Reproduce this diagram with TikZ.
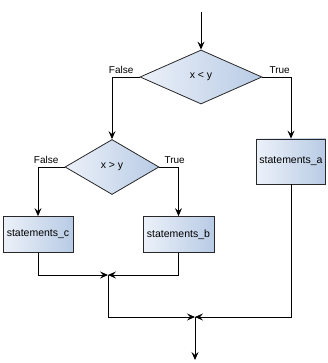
\documentclass[tikz,border=0pt]{standalone}
\usepackage{fontspec}
\setmainfont{Liberation Sans}
\usepackage{xcolor}
\definecolor{fclight}{RGB}{236,241,249}
\definecolor{fcdark}{RGB}{184,203,229}
\definecolor{fcline}{RGB}{40,40,40}
\usetikzlibrary{arrows.meta,positioning,shapes.geometric}

\tikzset{
  decision/.style={diamond, draw=fcline, line width=0.8pt, left color=fclight, right color=fcdark,
    minimum width=122pt, minimum height=54pt, inner sep=0pt, font=\fontsize{10.5}{12}\selectfont},
  stmtbox/.style={rectangle, draw=fcline, line width=0.8pt, left color=fclight, right color=fcdark,
    minimum width=70pt, minimum height=36pt, inner sep=0pt, font=\fontsize{10.5}{12}\selectfont},
  branch/.style={inner sep=0pt, font=\fontsize{10}{12}\selectfont},
  flow/.style={draw=black, line width=0.9pt, -{Stealth[length=8pt,width=7pt,inset=3pt]}}
}

\begin{document}
\begin{tikzpicture}[x=1pt,y=-1pt]
  \useasboundingbox (0,0) rectangle (328,363);

  % Conditions
  \node[decision] (lessxy) at (201,77) {x < y};
  \node[decision, minimum width=94pt, minimum height=55pt] (greaterxy) at (112,167) {x > y};

  % Statements
  \node[stmtbox, minimum width=69pt, minimum height=45pt] (stmta) at (291,161.5) {statements\_a};
  \node[stmtbox] (stmtc) at (38,234.5) {statements\_c};
  \node[stmtbox, minimum width=71pt] (stmtb) at (178.5,234.5) {statements\_b};

  % Branch labels
  \node[branch, above left=3pt and 6pt of lessxy.west] (f1) {False};
  \node[branch, above right=3pt and 7pt of lessxy.east] (t1) {True};
  \node[branch, above left=3pt and 6pt of greaterxy.west] (f2) {False};
  \node[branch, above right=3pt and 5pt of greaterxy.east] (t2) {True};

  % Entry, merge and exit points
  \coordinate (entry) at (201,12);
  \coordinate (joinbc) at (108,275);
  \coordinate (joinall) at (195,317);
  \coordinate (exit) at (195,360);

  % Connectors
  \draw[flow] (entry) -- (lessxy.north);
  \draw[flow] (lessxy.west) -| (greaterxy.north);
  \draw[flow] (lessxy.east) -| (stmta.north);
  \draw[flow] (greaterxy.west) -| (stmtc.north);
  \draw[flow] (greaterxy.east) -| (stmtb.north);
  \draw[flow] (stmtc.south) |- (joinbc);
  \draw[flow] (stmtb.south) |- (joinbc);
  \draw[flow] (joinbc) |- (joinall);
  \draw[flow] (stmta.south) |- (joinall);
  \draw[flow] (joinall) -- (exit);
\end{tikzpicture}
\end{document}
